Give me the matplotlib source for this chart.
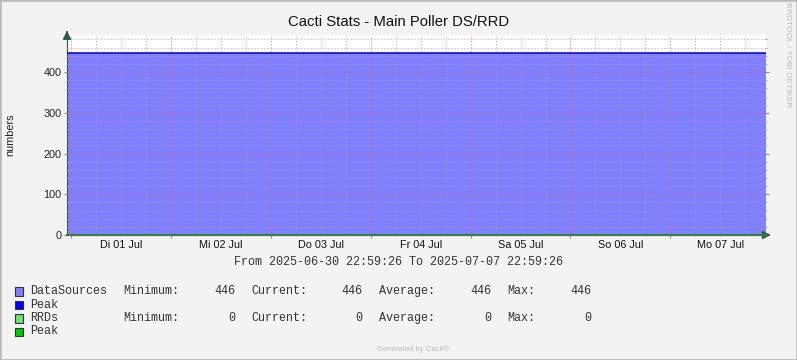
import matplotlib
matplotlib.use("Agg")
import matplotlib.pyplot as plt
import matplotlib.dates as mdates
import matplotlib.patches as mpatches
import matplotlib.ticker as mticker
from datetime import datetime, timedelta

# ─── Données ───────────────────────────────────────────────
t_start = datetime(2025, 6, 30, 22, 59, 26)
t_end = datetime(2025, 7, 7, 22, 59, 26)
times = [t_start, t_end]
datasources = [446, 446]
rrds = [0, 0]
day_labels = ["Di 01 Jul", "Mi 02 Jul", "Do 03 Jul", "Fr 04 Jul",
              "Sa 05 Jul", "So 06 Jul", "Mo 07 Jul"]
y_max = 491

legend_rows = [
    ("DataSources", "#7F7FFF", (446, 446, 446, 446)),
    ("Peak", "#0000FF", None),
    ("RRDs", "#77DD77", (0, 0, 0, 0)),
    ("Peak", "#00CC00", None),
]
stat_names = ["Minimum:", "Current:", "Average:", "Max:"]

W, H = 797, 360
BG = "#F3F3F3"
AXC = "#2F5A4A"
SANS = "Liberation Sans"
MONO = "Liberation Mono"

plt.rcParams["lines.scale_dashes"] = False

fig = plt.figure(figsize=(W / 100, H / 100), dpi=100, facecolor=BG)

# zone de tracé (pixels)
x0, x1, ytop, ybot = 67, 766, 35, 235
ax = fig.add_axes([x0 / W, 1 - ybot / H, (x1 - x0) / W, (ybot - ytop) / H])
ax.set_facecolor("white")

ax.fill_between(times, datasources, color="#7F7FFF", linewidth=0, zorder=1)
ax.plot(times, datasources, color="#0000C0", linewidth=1.1, zorder=3)
ax.plot(times, rrds, color="#3A7D44", linewidth=1.5, zorder=4, clip_on=False)

ax.set_xlim(t_start, t_end)
ax.set_ylim(0, y_max)

# grille type rrdtool
ax.xaxis.set_major_locator(mdates.DayLocator())
ax.xaxis.set_minor_locator(mdates.HourLocator(byhour=[6, 12, 18]))
ax.yaxis.set_major_locator(mticker.MultipleLocator(100))
ax.yaxis.set_minor_locator(mticker.MultipleLocator(20))
ax.xaxis.set_major_formatter(mticker.NullFormatter())
ax.grid(which="minor", color="#A0A0A0", alpha=0.55, linestyle=(0, (1.2, 1.2)),
        linewidth=0.72, zorder=2)
ax.grid(which="major", color="#F06060", alpha=0.6, linestyle=(0, (1.2, 1.2)),
        linewidth=0.72, zorder=2)
ax.set_axisbelow(False)

ax.tick_params(which="major", direction="inout", length=4, color="#888888",
               labelsize=7.8, labelcolor="#222222", right=True, bottom=True, pad=2)
ax.tick_params(which="minor", direction="inout", length=2, color="#999999",
               right=True, bottom=True)
for lab in ax.get_yticklabels():
    lab.set_fontfamily(SANS)

for s in ["top", "right"]:
    ax.spines[s].set_visible(False)
ax.spines["left"].set_color(AXC)
ax.spines["bottom"].set_color(AXC)

# flèches des axes
ax.annotate("", xy=(0, 1.035), xytext=(0, 1.0), xycoords="axes fraction",
            arrowprops=dict(arrowstyle="-|>,head_length=0.5,head_width=0.25",
                            color=AXC, lw=1))
ax.annotate("", xy=(1.011, 0), xytext=(0.99, 0), xycoords="axes fraction",
            arrowprops=dict(arrowstyle="-|>,head_length=0.5,head_width=0.25",
                            color=AXC, lw=1))

# labels des jours (à midi)
trans = ax.get_xaxis_transform()
for i, lab in enumerate(day_labels):
    noon = datetime(2025, 7, 1, 12) + timedelta(days=i)
    ax.text(noon, -0.05, lab, transform=trans, ha="center", va="center",
            fontsize=7.8, family=SANS, color="#111111")

# textes
fig.text(0.5, 1 - 22 / H, "Cacti Stats - Main Poller DS/RRD", ha="center", va="center",
         fontsize=10.7, family=SANS, color="#111111")
fig.text(10 / W, 1 - 135 / H, "numbers", rotation=90, ha="center", va="center",
         fontsize=7.8, family=SANS, color="#222222")
fig.text(788 / W, 1 - 55 / H, "RRDTOOL / TOBI OETIKER", rotation=270, ha="center",
         va="center", fontsize=6, family=SANS, color="#BBBBBB")
fig.text(398 / W, 1 - 262 / H,
         f"From {t_start:%Y-%m-%d %H:%M:%S} To {t_end:%Y-%m-%d %H:%M:%S}",
         ha="center", va="center", fontsize=8.5, family=MONO, color="#333333")
fig.text(413 / W, 1 - 349 / H, "Generated by Cacti®", ha="center", va="center",
         fontsize=5.5, family=SANS, color="#BBBBBB")

# légende : colonnes placées comme dans rrdtool
name_x = [123, 251, 379, 507]
value_x = [235, 362, 491, 591]
row_y = [291, 304.5, 318, 331.5]
mono = dict(va="center", fontsize=8.5, family=MONO, color="#333333")
for (name, col, stats), yy in zip(legend_rows, row_y):
    fig.patches.append(mpatches.Rectangle((15 / W, 1 - (yy + 4.5) / H), 8 / W, 8.5 / H,
                                          transform=fig.transFigure, facecolor=col,
                                          edgecolor="#333333", linewidth=0.8))
    fig.text(30 / W, 1 - yy / H, name, ha="left", **mono)
    if stats is None:
        continue
    for sn, v, nx, vx in zip(stat_names, stats, name_x, value_x):
        fig.text(nx / W, 1 - yy / H, sn, ha="left", **mono)
        fig.text(vx / W, 1 - yy / H, str(v), ha="right", **mono)

# bordure de l'image
fig.patches.append(mpatches.Rectangle((0, 0), 1, 1, transform=fig.transFigure,
                                      fill=False, edgecolor="#BBBBBB", linewidth=2))

fig.savefig("out.png", dpi=100, facecolor=BG)
